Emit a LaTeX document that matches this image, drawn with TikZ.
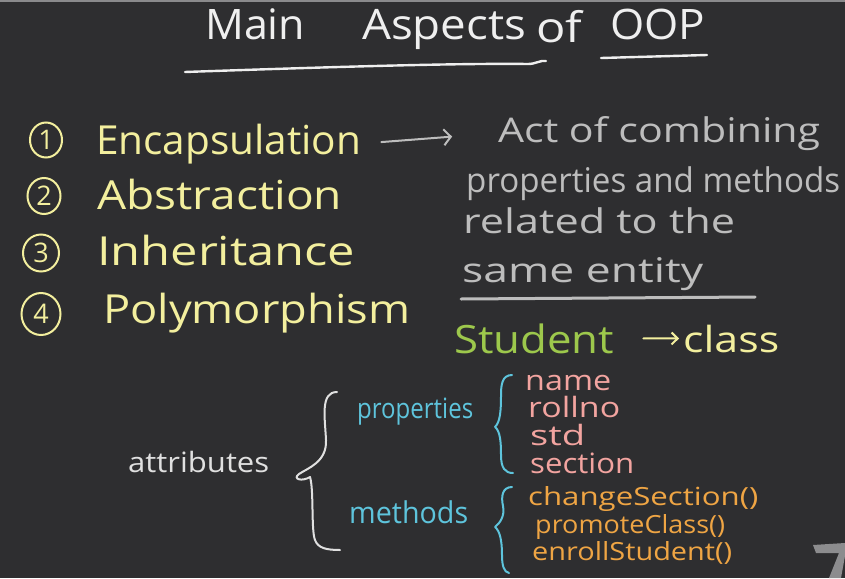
\documentclass[tikz,border=0pt]{standalone}
\usepackage{fontspec}
\usepackage{graphicx}
\setmainfont{Open Sans}
\usetikzlibrary{arrows.meta}
\definecolor{board}{HTML}{2E2E30}
\definecolor{topline}{HTML}{8A8A8C}
\definecolor{chalk}{HTML}{EFEFEF}
\definecolor{chyellow}{HTML}{F3EF9E}
\definecolor{chgray}{HTML}{BDBDBD}
\definecolor{chgreen}{HTML}{9DC84C}
\definecolor{chblue}{HTML}{5EC4DC}
\definecolor{chpink}{HTML}{F2A4A0}
\definecolor{chorange}{HTML}{EFA544}
\definecolor{chattr}{HTML}{E0E0E0}
\definecolor{logo}{HTML}{8C8C8E}
\newcommand\fitw[2]{\resizebox{#1pt}{\height}{#2}}
\tikzset{
  txt/.style={inner sep=0pt, anchor=base west},
  titletext/.style={txt, text=chalk, font=\fontsize{42}{44}\selectfont},
  listtext/.style={txt, text=chyellow, font=\fontsize{40}{42}\selectfont},
  desctext/.style={txt, text=chgray, font=\fontsize{34}{36}\selectfont},
  smalltext/.style={txt, font=\fontsize{28}{30}\selectfont},
  ortext/.style={txt, text=chorange, font=\fontsize{25}{27}\selectfont},
  numtext/.style={inner sep=0pt, text=chyellow, font=\fontsize{27}{29}\selectfont},
  numring/.style={draw=chyellow, line width=2pt},
  chalkline/.style={line width=2.4pt, line cap=round},
  bracepath/.style={line width=2pt, line cap=round, line join=round},
  garrow/.style={draw=chgray, line width=2pt, line cap=round, -{Straight Barb[length=7pt,width=16pt,line width=2pt]}},
  yarrow/.style={draw=chyellow, line width=2pt, line cap=round, -{Straight Barb[length=6pt,width=12pt,line width=2pt]}},
}
\begin{document}
\begin{tikzpicture}[x=1pt,y=-1pt]
\fill[board] (0,0) rectangle (845,578);
\useasboundingbox (0,0) rectangle (845,578);
\fill[topline] (0,0) rectangle (845,2.5);
% logo corner
\fill[logo] (813,545) -- (845,543) -- (845,556) -- (841,578) -- (829,578) -- (839,553) -- (816,553) -- cycle;

% Title
\node[titletext] (main) at (205,40) {\fitw{100}{Main}};
\node[titletext] (aspects) at (362,40) {\fitw{164}{Aspects}};
\node[titletext] (of) at (536,42) {\fitw{46}{of}};
\node[titletext] (oop) at (610,40) {\fitw{95}{OOP}};
\draw[chalkline, chalk] (185,72) .. controls (300,68) and (450,63) .. (528,64) .. controls (536,64) and (540,60) .. (546,61);
\draw[chalkline, chalk] (601,58) -- (707,55);

% Numbered list
\node[numtext] (n1) at (46,140) {1};
\node[numtext] (n2) at (44,196) {2};
\node[numtext] (n3) at (41,253) {3};
\node[numtext] (n4) at (41,314) {4};
\draw[numring] (n1.center) circle[x radius=16pt, y radius=17.5pt];
\draw[numring] (n2.center) circle[x radius=16.5pt, y radius=18pt];
\draw[numring] (n3.center) circle[x radius=18pt, y radius=18.5pt];
\draw[numring] (n4.center) circle[x radius=19.5pt, y radius=21pt];
\node[listtext] (encap) at (96,154) {\fitw{265}{Encapsulation}};
\node[listtext] (abstr) at (97,209) {\fitw{245}{Abstraction}};
\node[listtext] (inher) at (97,265) {\fitw{258}{Inheritance}};
\node[listtext] (poly) at (103,323) {\fitw{307}{Polymorphism}};

% Description
\node[desctext] (act) at (498,142) {\fitw{322}{Act of combining}};
\node[desctext] (propm) at (466,192) {\fitw{374}{properties and methods}};
\node[desctext] (rel) at (463,233) {\fitw{272}{related to the}};
\node[desctext] (same) at (462,282) {\fitw{241}{same entity}};
\draw[garrow, shorten <=20pt, shorten >=46pt] (encap.east) -- (act.west);
\draw[chalkline, chgray, line width=3pt] (461,299) -- (755,297);

% Student -> class
\node[txt, text=chgreen, font=\fontsize{39}{41}\selectfont] (student) at (454,353) {\fitw{160}{Student}};
\node[txt, text=chyellow, font=\fontsize{36}{38}\selectfont] (class) at (683,352) {\fitw{96}{class}};
\draw[yarrow, shorten <=29pt, shorten >=4pt] (student.east) -- (class.west);

% attributes
\node[smalltext, text=chattr] (attr) at (128,472) {\fitw{141}{attributes}};
\draw[bracepath, chattr] (337,392) .. controls (320,392) and (325,418) .. (326,440)
  .. controls (327,462) and (308,468) .. (299,474)
  .. controls (292,479) and (302,482) .. (310,477)
  .. controls (314,490) and (311,530) .. (315,540)
  .. controls (318,548) and (326,550) .. (340,550);

\node[smalltext, text=chblue] (props) at (357,418) {\fitw{116}{properties}};
\node[smalltext, text=chblue, font=\fontsize{30}{32}\selectfont] (meth) at (349,523) {\fitw{119}{methods}};

\draw[bracepath, chblue] (512,375) .. controls (502,375) and (501,385) .. (501,395)
  .. controls (501,412) and (500,422) .. (495,427)
  .. controls (500,431) and (501,441) .. (501,455)
  .. controls (501,468) and (505,473) .. (513,473);
\draw[bracepath, chblue] (512,487) .. controls (502,487) and (501,497) .. (503,506)
  .. controls (505,516) and (500,523) .. (495,527)
  .. controls (500,531) and (502,541) .. (502,555)
  .. controls (502,566) and (504,572) .. (509,573);

\node[smalltext, text=chpink] (name) at (525,390) {\fitw{86}{name}};
\node[smalltext, text=chpink] (roll) at (528,417) {\fitw{92}{rollno}};
\node[smalltext, text=chpink] (std) at (530,445) {\fitw{55}{std}};
\node[smalltext, text=chpink] (sect) at (530,473) {\fitw{104}{section}};

\node[ortext] (chg) at (528,505) {\fitw{230}{changeSection()}};
\node[ortext] (prom) at (535,533) {\fitw{190}{promoteClass()}};
\node[ortext] (enr) at (532,560) {\fitw{200}{enrollStudent()}};
\end{tikzpicture}
\end{document}
